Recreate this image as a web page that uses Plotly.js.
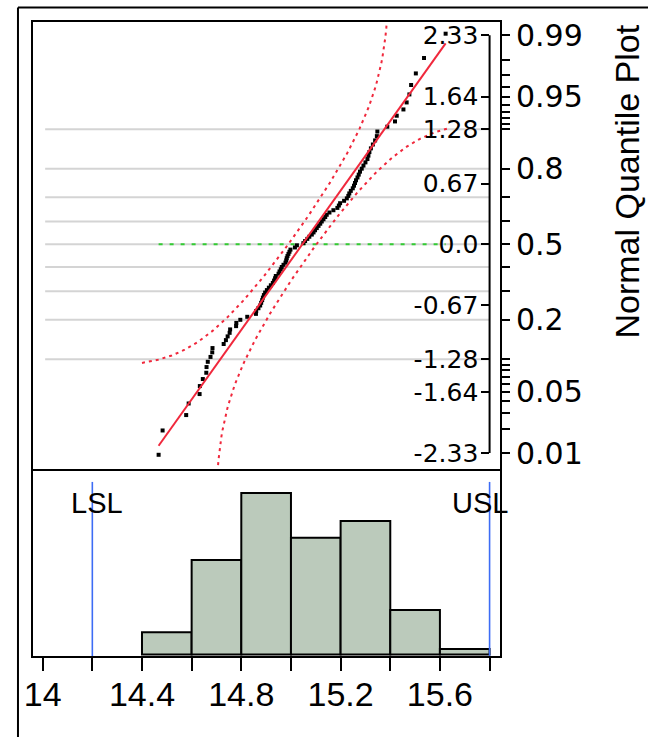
<!DOCTYPE html>
<html><head><meta charset="utf-8">
<script src="https://cdn.plot.ly/plotly-3.0.1.min.js"></script>
<style>html,body{margin:0;padding:0;background:#fff;} #chart{width:648px;height:737px;}</style>
</head><body><div id="chart"></div>
<script>
// ---- data ----
const values = [
 14.467,14.483,14.578,14.588,14.632,14.633,14.645,14.659,14.660,14.665,
 14.676,14.683,14.684,14.729,14.738,14.745,14.753,14.755,14.779,14.780,
 14.796,14.824,14.859,14.860,14.869,14.876,14.880,14.884,14.887,14.891,
 14.896,14.903,14.911,14.919,14.927,14.932,14.936,14.939,14.950,14.954,
 14.959,14.963,14.970,14.978,14.981,14.983,14.986,14.990,14.994,14.998,
 15.016,15.024,15.050,15.057,15.066,15.074,15.084,15.091,15.097,15.104,
 15.111,15.118,15.124,15.131,15.138,15.144,15.155,15.171,15.187,15.193,
 15.198,15.214,15.225,15.231,15.235,15.241,15.249,15.254,15.258,15.262,
 15.268,15.273,15.278,15.285,15.292,15.300,15.308,15.312,15.316,15.322,
 15.330,15.339,15.346,15.348,15.388,15.419,15.426,15.453,15.466,15.477,
 15.484,15.503,15.536,15.623];
const binStarts = [14.4,14.6,14.8,15.0,15.2,15.4,15.6];
const binCounts = [4,17,29,21,24,8,1];
const binWidth = 0.2;
const LSL = 14.2, USL = 15.8;
const fitMean = 15.046, fitSD = 0.258;
const bandD = 0.087;
const zTickVals = [-2.326,-1.645,-1.282,-0.674,0,0.674,1.282,1.645,2.326];
const zTickText = ['-2.33','-1.64','-1.28','-0.67','0.0','0.67','1.28','1.64','2.33'];
const probTicks = [0.01,0.02,0.03,0.04,0.05,0.06,0.07,0.08,0.09,0.1,0.2,0.3,0.4,0.5,0.6,0.7,0.8,0.9,0.91,0.92,0.93,0.94,0.95,0.96,0.97,0.98,0.99];
const probLabels = {0.01:'0.01',0.05:'0.05',0.2:'0.2',0.5:'0.5',0.8:'0.8',0.95:'0.95',0.99:'0.99'};
const gridProbs = [0.1,0.2,0.3,0.4,0.5,0.6,0.7,0.8,0.9];
const xTickVals = [14,14.2,14.4,14.6,14.8,15.0,15.2,15.4,15.6,15.8];
const xTickText = ['14','','14.4','','14.8','','15.2','','15.6',''];

// ---- normal helpers ----
function qnorm(p){
  const a=[-3.969683028665376e+01,2.209460984245205e+02,-2.759285104469687e+02,1.383577518672690e+02,-3.066479806614716e+01,2.506628277459239e+00];
  const b=[-5.447609879822406e+01,1.615858368580409e+02,-1.556989798598866e+02,6.680131188771972e+01,-1.328068155288572e+01];
  const c=[-7.784894002430293e-03,-3.223964580411365e-01,-2.400758277161838e+00,-2.549732539343734e+00,4.374664141464968e+00,2.938163982698783e+00];
  const d=[7.784695709041462e-03,3.224671290700398e-01,2.445134137142996e+00,3.754408661907416e+00];
  const pl=0.02425;
  if(p<pl){const q=Math.sqrt(-2*Math.log(p));return (((((c[0]*q+c[1])*q+c[2])*q+c[3])*q+c[4])*q+c[5])/((((d[0]*q+d[1])*q+d[2])*q+d[3])*q+1);}
  if(p>1-pl){const q=Math.sqrt(-2*Math.log(1-p));return -(((((c[0]*q+c[1])*q+c[2])*q+c[3])*q+c[4])*q+c[5])/((((d[0]*q+d[1])*q+d[2])*q+d[3])*q+1);}
  const q=p-0.5,r=q*q;
  return (((((a[0]*r+a[1])*r+a[2])*r+a[3])*r+a[4])*r+a[5])*q/(((((b[0]*r+b[1])*r+b[2])*r+b[3])*r+b[4])*r+1);
}
function pnorm(z){
  const t=1/(1+0.3275911*Math.abs(z)/Math.SQRT2);
  const y=1-(((((1.061405429*t-1.453152027)*t)+1.421413741)*t-0.284496736)*t+0.254829592)*t*Math.exp(-z*z/2);
  return z>=0?0.5*(1+y):0.5*(1-y);
}

const n = values.length;
const scores = values.map((v,i)=>qnorm((i+1)/(n+1)));
const vMin = values[0], vMax = values[n-1];

// confidence bands
const bx=[], bUp=[], bLo=[];
for(let v=14.40; v<=15.6401; v+=0.004){
  const P=pnorm((v-fitMean)/fitSD);
  bx.push(v);
  bUp.push(P+bandD<1 ? qnorm(P+bandD) : null);
  bLo.push(P-bandD>0 ? qnorm(P-bandD) : null);
}

const FONT='Liberation Sans, Arial, sans-serif';
const WFONT='DejaVu Sans, Verdana, sans-serif';
const red='#f0283c';
const histFrac = 187/636;

const traces = [
 {type:'bar', x:binStarts.map(s=>s+binWidth/2), y:binCounts, width:binWidth,
  marker:{color:'#bbcabb', line:{color:'#000', width:2}}, xaxis:'x', yaxis:'y', hoverinfo:'skip'},
 {type:'scatter', mode:'lines', x:[vMin,vMax], y:[0,0], xaxis:'x', yaxis:'y2',
  line:{color:'#33cc33', width:2, dash:'4px,7px'}},
 {type:'scatter', mode:'lines', x:bx, y:bUp, xaxis:'x', yaxis:'y2', connectgaps:false,
  line:{color:red, width:2, dash:'3px,4px'}},
 {type:'scatter', mode:'lines', x:bx, y:bLo, xaxis:'x', yaxis:'y2', connectgaps:false,
  line:{color:red, width:2, dash:'3px,4px'}},
 {type:'scatter', mode:'markers', x:values, y:scores, xaxis:'x', yaxis:'y2',
  marker:{symbol:'square', size:4, color:'#000', line:{width:0}}},
 {type:'scatter', mode:'lines', x:[vMin,vMax], y:[(vMin-fitMean)/fitSD,(vMax-fitMean)/fitSD], xaxis:'x', yaxis:'y2',
  line:{color:red, width:2}}
];

const shapes = [];
gridProbs.forEach(p=>shapes.push({type:'line', xref:'x', yref:'y2', x0:14.01, x1:15.8, y0:qnorm(p), y1:qnorm(p),
  line:{color:'#d4d4d4', width:2}, layer:'below'}));
shapes.push({type:'line', xref:'x', yref:'y2', x0:15.8, x1:15.8, y0:-2.326, y1:2.326, line:{color:'#000', width:2}});
shapes.push({type:'line', xref:'x', yref:'y', x0:LSL, x1:LSL, y0:-0.43, y1:31, line:{color:'#3d6cf5', width:1.6}});
shapes.push({type:'line', xref:'x', yref:'y', x0:USL, x1:USL, y0:-0.43, y1:31, line:{color:'#3d6cf5', width:1.6}});
shapes.push({type:'rect', xref:'paper', yref:'paper', x0:0, x1:1, y0:0, y1:1, line:{color:'#000', width:2}});
shapes.push({type:'line', xref:'paper', yref:'paper', x0:0, x1:1, y0:histFrac, y1:histFrac, line:{color:'#000', width:2}});
shapes.push({type:'line', xref:'paper', yref:'paper', x0:-0.0299, x1:-0.0299, y0:-0.3, y1:1.0212, line:{color:'#000', width:2}});
shapes.push({type:'line', xref:'paper', yref:'paper', x0:-0.0299, x1:1.5, y0:1.0212, y1:1.0212, line:{color:'#000', width:2}});

const layout = {
  width:648, height:737, showlegend:false,
  paper_bgcolor:'#fff', plot_bgcolor:'rgba(0,0,0,0)',
  margin:{l:32, r:147, t:21, b:80},
  font:{family:FONT, color:'#000'},
  xaxis:{range:[13.957,15.846], anchor:'y', showgrid:false, zeroline:false, showline:false,
    tickmode:'array', tickvals:xTickVals, ticktext:xTickText, ticks:'outside', ticklen:13, tickwidth:2, tickcolor:'#000',
    tickfont:{size:34, family:FONT}, ticklabelstandoff:-6},
  yaxis:{domain:[0,histFrac], range:[-0.43,33.14], showgrid:false, zeroline:false, showline:false, showticklabels:false, ticks:''},
  yaxis2:{domain:[histFrac,1], range:[-2.514,2.486], anchor:'free', position:(489.3-32)/469, side:'left',
    showgrid:false, zeroline:false, showline:false, tickmode:'array', tickvals:zTickVals, ticktext:zTickText,
    ticks:'outside', ticklen:8, tickwidth:2, tickcolor:'#000', tickfont:{size:25, family:WFONT}, ticklabelstandoff:-2},
  yaxis3:{overlaying:'y2', range:[-2.514,2.486], anchor:'x', side:'right', showgrid:false, zeroline:false, showline:false,
    tickmode:'array', tickvals:probTicks.map(qnorm), ticktext:probTicks.map(p=>probLabels[p]||''),
    ticks:'outside', ticklen:8, tickwidth:2, tickcolor:'#000', tickfont:{size:30, family:WFONT}},
  shapes:shapes,
  annotations:[
    {text:'LSL', xref:'x', yref:'y', x:14.219, y:27.2, showarrow:false, font:{size:29, family:FONT}},
    {text:'USL', xref:'x', yref:'y', x:15.76, y:27.2, showarrow:false, font:{size:29, family:FONT}},
    {text:'Normal Quantile Plot', xref:'paper', yref:'paper', x:(626-32)/469, y:(657-181.5)/636, textangle:-90,
     xanchor:'center', yanchor:'middle', showarrow:false, font:{size:34, family:FONT}}
  ]
};
// invisible trace so the probability axis is drawn
traces.push({type:'scatter', mode:'markers', x:[15], y:[0], xaxis:'x', yaxis:'y3', marker:{opacity:0}, hoverinfo:'skip'});
Plotly.newPlot('chart', traces, layout, {staticPlot:true});
</script></body></html>
